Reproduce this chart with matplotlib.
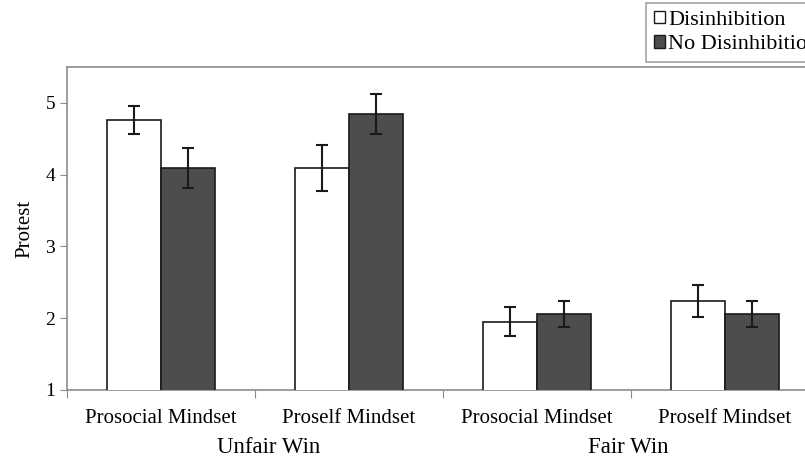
import numpy as np
import matplotlib.pyplot as plt
from matplotlib.patches import Patch

# protest means and standard errors per condition
mindsets = ['Prosocial Mindset', 'Proself Mindset', 'Prosocial Mindset', 'Proself Mindset']
outcomes = ['Unfair Win', 'Fair Win']
outcome_pos = [0.575, 2.485]
disinhib = [4.76, 4.09, 1.95, 2.24]
disinhib_err = [0.20, 0.32, 0.20, 0.22]
no_disinhib = [4.09, 4.85, 2.06, 2.06]
no_disinhib_err = [0.28, 0.28, 0.18, 0.18]

plt.rcParams['font.family'] = ['Liberation Serif', 'DejaVu Serif']
grey = '#8c8c8c'

fig = plt.figure(figsize=(8.05, 4.59), dpi=100)
ax = fig.add_axes([67 / 805, 69 / 459, 752 / 805, 323 / 459])

x = np.arange(len(mindsets))
w = 0.285
ekw = dict(elinewidth=1.5, capsize=4, capthick=1.5, ecolor='#1a1a1a')
ax.bar(x - w / 2, disinhib, w, yerr=disinhib_err, color='white',
       edgecolor='#1a1a1a', linewidth=1.2, error_kw=ekw, zorder=3)
ax.bar(x + w / 2, no_disinhib, w, yerr=no_disinhib_err, color='#4d4d4d',
       edgecolor='#1a1a1a', linewidth=1.2, error_kw=ekw, zorder=3)

ax.set_xlim(-0.5, len(mindsets) - 0.5)
ax.set_ylim(1, 5.5)
ax.set_yticks([1, 2, 3, 4, 5])
ax.set_ylabel('Protest', fontsize=15, labelpad=8)

# ticks sit on category boundaries, labels in the middle
ax.set_xticks(np.arange(len(mindsets) + 1) - 0.5)
ax.set_xticklabels([])
ax.set_xticks(x, minor=True)
ax.set_xticklabels(mindsets, minor=True, fontsize=15)
ax.tick_params(axis='x', which='minor', length=0, pad=14)
ax.tick_params(axis='x', which='major', length=6, color=grey, direction='out')
ax.tick_params(axis='y', labelsize=14, length=5, color=grey)

for s in ax.spines.values():
    s.set_color(grey)
    s.set_linewidth(1.2)

# outcome labels under each pair of mindsets
for pos, name in zip(outcome_pos, outcomes):
    ax.text(pos, -0.177, name, transform=ax.get_xaxis_transform(),
            ha='center', va='center', fontsize=16.5)

handles = [Patch(facecolor='white', edgecolor='#1a1a1a', label='Disinhibition'),
           Patch(facecolor='#4d4d4d', edgecolor='#1a1a1a', label='No Disinhibition')]
leg = fig.legend(handles=handles, loc='upper left', bbox_to_anchor=(646 / 805, 1 - 3 / 459),
                 fontsize=16, frameon=True, fancybox=False, handlelength=0.5,
                 handleheight=0.5, handletextpad=0.15, borderpad=0.35,
                 labelspacing=0.22, borderaxespad=0)
leg.get_frame().set_edgecolor(grey)
leg.get_frame().set_linewidth(1.2)

fig.savefig('out.png', dpi=100)
